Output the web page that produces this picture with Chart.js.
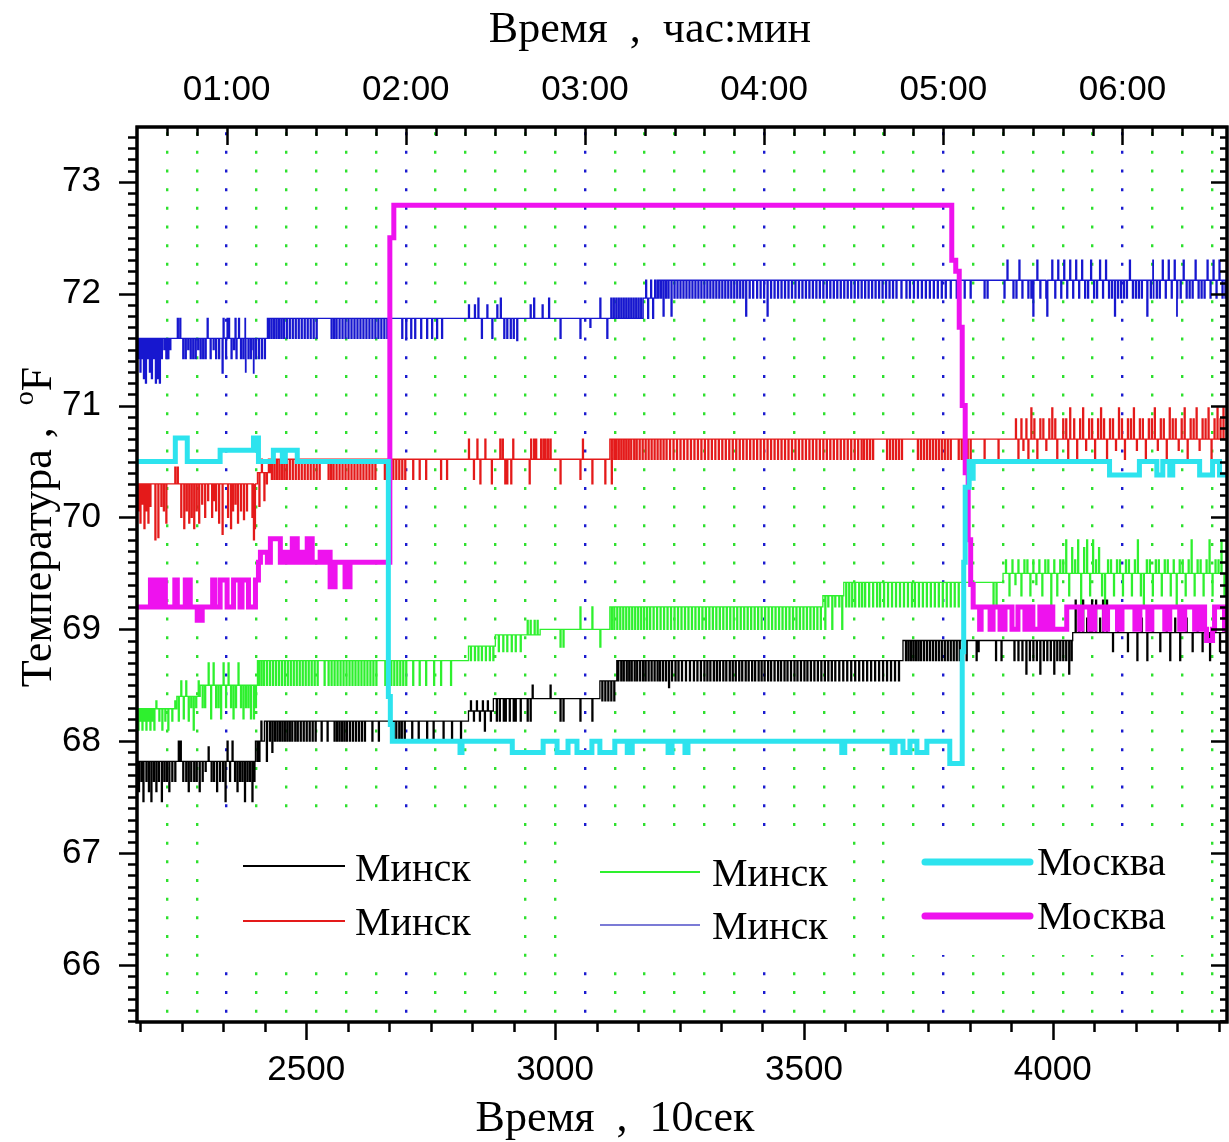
<!DOCTYPE html>
<html><head><meta charset="utf-8">
<script src="https://cdn.jsdelivr.net/npm/chart.js@4/dist/chart.umd.min.js"></script>
<style>html,body{margin:0;padding:0;background:#fff}#wrap{width:1229px;height:1142px}</style>
</head><body><div id="wrap"><canvas id="c" width="1229" height="1142"></canvas></div>
<script>
const X_MIN = 2160, X_MAX = 4350, Y_MIN = 65.49, Y_MAX = 73.49;
const bottomTicks = [2500, 3000, 3500, 4000];
const yTicks = [66, 67, 68, 69, 70, 71, 72, 73];
const hourTicks = [2340, 2700, 3060, 3420, 3780, 4140];
const hourLabels = ['01:00', '02:00', '03:00', '04:00', '05:00', '06:00'];
const gridStep = 60;
const seriesLabels = ['Минск', 'Минск', 'Минск', 'Минск', 'Москва', 'Москва'];

// ---- Минск (black): level changes [x, y, ...] and spikes [value, x...]
const blackLevels = [2160,67.82, 2398,68.0, 2416,68.18, 2826,68.27, 2876,68.38, 3090,68.54, 3128,68.72, 3699,68.9, 4040,68.97];
const blackSpikes = [
 [67.64, 2168,2178,2193,2203,2214,2219,2230,2236,2252,2258,2268,2274,2279,2291,2309,2314,2326,2332,2346,2356,2366,2371,2381,2386,2395],
 [67.55, 2163,2183,2198,2224,2263,2285,2320,2361],
 [67.46, 2172,2188,2209,2337,2376,2391],
 [67.73, 2297], [67.95, 2303],
 [68.0, 2243,2247,2341,2351],
 [67.82, 2401,2405,2420], [68.18, 2409], [67.9, 2431],
 [68.0, 2426,2436,2441,2446,2451,2456,2461,2466,2471,2477,2482,2488,2494,2500,2506,2512,2518,2530,2542,2556,2561,2566,2571,2576,2581,2587,2593,2599,2605,2611,2617,2632,2645,2670,2675,2680,2686,2691,2697,2712,2725,2742,2755,2775,2792,2810],
 [68.36, 2830,2842,2854,2864,3094,3100,3106,3112,3118],
 [68.18, 2836,2848,2870,2882,2888,2896,2900,2908,2916,2920,2930,2944,2950,3010,3016,3050,3074],
 [68.09, 2858], [68.5, 2954,2990], [68.72, 3124],
 [68.54, 3132,3137,3143,3148,3153,3159,3164,3170,3176,3181,3187,3193,3199,3205,3210,3216,3222,3234,3241,3247,3254,3262,3270,3278,3285,3292,3299,3305,3311,3318,3324,3330,3337,3343,3350,3356,3362,3369,3375,3382,3388,3395,3401,3408,3414,3420,3427,3433,3440,3447,3453,3460,3466,3473,3480,3486,3493,3500,3506,3513,3520,3527,3534,3541,3548,3555,3562,3570,3578,3586,3594,3602,3610,3618,3626,3634,3642,3650,3658,3666,3674,3682,3690],
 [68.48, 3228],
 [68.72, 3704,3709,3714,3719,3724,3729,3734,3740,3746,3752,3758,3764,3770,3776,3782,3788,3794,3800,3806,3812,3826,3846,3885,3896,3922,3930,3938,3953,3960,3967,3981,3988,3995,4008,4014,4020,4026,4037,4169,4189,4235,4255,4315],
 [68.8, 3850,4120,4150,4215,4280,4300,4335],
 [68.6, 3946,3974,4002,4032],
 [69.26, 4045,4060,4078,4086,4100,4108],
 [69.1, 4052,4068,4074,4094,4130,4178,4200,4228,4245,4268,4290,4325,4345]
];

// ---- Минск (red)
const redLevels = [2160,70.3, 2402,70.4, 2428,70.52, 3110,70.7];
const redSpikes = [
 [70.06, 2162,2178,2213,2259,2279,2318,2352,2368,2380],
 [69.95, 2166,2182,2218,2264,2284,2324,2362],
 [70.12, 2170,2290,2357],
 [69.9, 2174,2254,2274,2348,2396],
 [70.1, 2186,2208], [69.8, 2196,2394], [69.82, 2202],
 [70.0, 2248,2269,2296,2310,2342,2391],
 [70.15, 2302,2314], [69.85, 2331], [69.98, 2374], [70.45, 2236,2241],
 [70.1, 2405], [70.52, 2410,2424], [70.15, 2415], [70.3, 2420],
 [70.34, 2430,2435,2440,2445,2450,2455,2460,2466,2472,2478,2484,2490,2496,2502,2508,2514,2520,2526,2544,2549,2554,2560,2566,2572,2578,2584,2590,2596,2602,2608,2614,2620,2626,2632,2638,2657,2662,2668,2674,2680,2686,2692,2698,2714,2727,2740,2770,2782,2836,3050],
 [70.3, 2849,2872,2899,2903,2911,2948,3010,3074,3100,3113],
 [70.7, 2826,2843,2859,2889,2894,2915,2951,2957,2961,2971,2976,2980,2985,2990,3055],
 [70.52, 3118,3122,3127,3132,3137,3142,3147,3152,3158,3163,3169,3175,3181,3187,3193,3199,3205,3211,3217,3223,3230,3237,3244,3251,3258,3265,3272,3279,3286,3293,3300,3307,3314,3321,3328,3335,3342,3349,3356,3363,3370,3377,3384,3391,3398,3405,3412,3419,3426,3433,3440,3447,3454,3461,3468,3475,3482,3489,3496,3503,3510,3517,3524,3531,3538,3545,3552,3559,3566,3573,3580,3587,3594,3601,3608,3615,3620,3626,3632,3638,3666,3672,3678,3684,3690,3696,3728,3734,3740,3746,3752,3758,3764,3770,3776,3782,3788,3794,3810,3816,3822,3828,3834,3862,3890,3930,3950,3968,4008,4030,4048,4084,4108,4144,4186,4228,4270,4318],
 [70.88, 3925,3936,3946,3962,3974,3980,3992,4004,4020,4026,4042,4054,4072,4078,4090,4102,4114,4120,4138,4150,4156,4174,4180,4192,4198,4216,4222,4240,4246,4258,4276,4282,4300,4306,4324,4336],
 [70.98, 3956,3998,4034,4060,4096,4132,4162,4204,4234,4264,4288,4312,4330,4342],
 [70.6, 3940,3986,4066,4126,4168,4210,4252,4294]
];

// ---- Минск (green)
const greenLevels = [2160,68.29, 2240,68.4, 2287,68.5, 2402,68.72, 2826,68.85, 2880,68.95, 2970,69.0, 3110,69.2, 3538,69.3, 3580,69.42, 3900,69.5];
const greenSpikes = [
 [68.1, 2162,2170,2178,2186,2194,2210,2222],
 [68.18, 2166,2174,2182,2190,2204,2216,2230,2243,2263],
 [68.36, 2198,2236],
 [68.54, 2248,2258,2283], [68.2, 2253], [68.3, 2268,2278], [68.1, 2273],
 [68.7, 2303,2313,2333,2343,2363],
 [68.3, 2291,2296,2318,2323,2338,2348,2358,2368,2378,2383,2398],
 [68.2, 2308,2328,2353,2373,2388,2394],
 [68.5, 2404,2409,2414,2420,2426,2432,2438,2444,2450,2456,2462,2468,2474,2480,2486,2492,2498,2504,2510,2516,2522,2536,2544,2550,2556,2562,2568,2574,2580,2586,2592,2598,2604,2610,2616,2622,2628,2634,2640,2658,2664,2670,2676,2682,2688,2694,2700,2714,2727,2740,2756,2770,2790],
 [68.72, 2830,2838,2845,2852,2860,2868,2875],
 [69.08, 2944,2950,2958,2964],
 [68.8, 2886,2895,2903,2912,2920,2930],
 [68.84, 3010,3016,3090], [69.2, 3050,3074],
 [69.0, 3113,3118,3124,3130,3136,3142,3148,3154,3160,3166,3172,3178,3184,3190,3197,3204,3211,3218,3225,3232,3239,3246,3253,3260,3267,3274,3281,3288,3295,3302,3309,3316,3323,3330,3337,3344,3351,3358,3365,3372,3379,3386,3393,3400,3407,3414,3421,3428,3435,3442,3449,3456,3463,3470,3477,3484,3491,3498,3505,3512,3519,3526,3533,3542,3556,3576],
 [69.2, 3548,3562,3570,3584,3590,3596,3602,3610,3616,3622,3630,3638,3646,3652,3660,3668,3676,3684,3692,3700,3708,3716,3722,3730,3738,3746,3754,3762,3770,3778,3786,3794,3802,3810,3880,3886,3996,4056,4104,4182,4248],
 [69.62, 3905,3918,3930,3942,3948,3960,3972,3984,3990,4002,4014,4020,4044,4086,4110,4116,4128,4134,4146,4152,4164,4188,4194,4206,4212,4224,4230,4242,4254,4260,4272,4290,4296,4308,4326,4332],
 [69.3, 3912,3936,3954,3978,4008,4032,4074,4098,4122,4140,4158,4176,4200,4218,4236,4266,4284,4302,4320,4344],
 [69.4, 3924,3966],
 [69.8, 4026,4050,4068,4080,4170,4278,4314,4338],
 [69.73, 4038,4062,4092]
];

// ---- Минск (blue)
const blueLevels = [2160,71.6, 2422,71.78, 3177,71.96, 3205,72.12];
const blueSpikes = [
 [71.42, 2162,2170,2181,2193,2209,2218,2222,2252,2257,2267,2272,2277,2287,2292,2297,2307,2318,2324,2338,2349,2359,2368,2373,2383,2388,2398,2404,2410,2416],
 [71.3, 2166,2185,2378], [71.24, 2173,2189,2201], [71.2, 2177,2197,2205],
 [71.5, 2214,2226,2262,2282,2313,2354,2393],
 [71.78, 2241,2246,2301,2333,2341,2344,2357,2364,2377],
 [71.29, 2331,2394],
 [71.6, 2424,2429,2434,2439,2444,2449,2454,2460,2466,2472,2478,2484,2490,2496,2502,2508,2514,2520,2550,2555,2560,2566,2572,2578,2584,2590,2596,2602,2608,2614,2620,2626,2632,2638,2644,2650,2656,2662,2668,2692,2700,2710,2718,2730,2742,2752,2762,2772,2852,2873,2897,2903,2910,2916,3010,3050,3104],
 [71.58, 2923],
 [71.9, 2826,2838,2863,2883,2950,2974],
 [71.96, 2845,2890,2957,2987,3090,3112,3117,3122,3127,3132,3137,3142,3147,3152,3157,3162,3167,3172],
 [71.7, 3070],
 [72.12, 3182,3192,3200], [71.78, 3186,3196],
 [71.96, 3207,3212,3222,3227,3239,3245,3251,3257,3263,3269,3275,3281,3287,3293,3299,3305,3311,3317,3323,3329,3335,3341,3347,3353,3359,3365,3371,3377,3390,3397,3405,3412,3419,3433,3440,3447,3454,3461,3468,3475,3482,3489,3496,3503,3510,3517,3524,3531,3538,3545,3552,3559,3566,3573,3580,3587,3594,3601,3608,3615,3622,3629,3636,3643,3650,3657,3664,3671,3678,3685,3695,3705,3712,3720,3728,3736,3744,3752,3760,3768,3776,3784,3794,3806,3812,3822,3834,3862,3868,3902,3920,3926,3938,3950,3956,3974,3986,4004,4016,4028,4040,4052,4064,4070,4082,4088,4100,4112,4118,4130,4136,4142,4148,4160,4166,4172,4178,4196,4202,4208,4214,4226,4238,4250,4256,4268,4274,4280,4292,4298,4304,4316,4328,4340,4346],
 [71.8, 3217,3233,3383,3426,3960,3988,4124,4189,4249],
 [72.3, 3908,3932,3968,3998,4010,4022,4034,4046,4058,4076,4094,4106,4154,4201,4220,4232,4244,4262,4286,4310,4322,4334]
];

// ---- Москва (cyan): step changes [x, y, ...]
const cyanSteps = [2160,70.5, 2237,70.71, 2261,70.5, 2327,70.6, 2394,70.71, 2404,70.5, 2434,70.6, 2452,70.5, 2458,70.6, 2482,70.5,
 2665,68.4, 2669,68.15, 2673,68.0, 2809,67.9, 2813,68.0, 2914,67.9, 2976,68.0, 3004,67.9, 3026,68.0, 3044,67.9, 3074,68.0,
 3090,67.9, 3120,68.0, 3145,67.9, 3155,68.0, 3227,67.9, 3235,68.0, 3261,67.9, 3267,68.0, 3576,67.9, 3582,68.0,
 3677,67.9, 3683,68.0, 3699,67.9, 3713,68.0, 3727,67.9, 3747,68.0, 3793,67.8, 3818,68.8, 3821,69.6, 3824,70.27, 3832,70.5,
 3836,70.35, 3840,70.5, 4114,70.38, 4174,70.5, 4209,70.38, 4221,70.5, 4235,70.38, 4241,70.5, 4295,70.38, 4321,70.5, 4335,70.38];

// ---- Москва (magenta)
const magentaSteps = [2160,69.2, 2187,69.44, 2197,69.2, 2207,69.44, 2217,69.2, 2236,69.44, 2241,69.2, 2257,69.44, 2267,69.2, 2281,69.08, 2291,69.2,
 2312,69.44, 2316,69.2, 2327,69.44, 2341,69.2, 2354,69.44, 2367,69.2, 2371,69.44, 2384,69.2, 2398,69.44, 2404,69.6, 2408,69.69, 2422,69.6,
 2428,69.81, 2448,69.6, 2458,69.69, 2468,69.6, 2472,69.81, 2482,69.6, 2488,69.69, 2494,69.6, 2502,69.81, 2512,69.6, 2528,69.69, 2534,69.6,
 2542,69.69, 2548,69.38, 2558,69.6, 2578,69.38, 2588,69.6, 2668,72.5, 2676,72.79,
 3797,72.3, 3805,72.2, 3812,71.7, 3818,71.0, 3824,70.4, 3830,69.8, 3835,69.4, 3840,69.2, 3853,69.0,
 3856,69.2, 3874,69.0, 3880,69.2, 3894,69.0, 3904,69.2, 3918,69.0, 3930,69.2, 3944,69.0, 3954,69.2, 3960,69.0, 3974,69.2, 3984,69.0,
 3994,69.2, 4000,69.0, 4028,69.2, 4054,69.0, 4058,69.2, 4074,69.0, 4084,69.2, 4104,69.0, 4110,69.2, 4130,69.0, 4139,69.2, 4165,69.0,
 4175,69.2, 4191,69.0, 4199,69.2, 4225,69.0, 4235,69.2, 4255,69.0, 4265,69.2, 4285,69.0, 4295,69.2, 4305,69.0, 4309,68.9, 4321,69.0,
 4325,69.2, 4345,69.0];

function build(levels, groups, dur) {
  const lv = [];
  for (let i = 0; i < levels.length; i += 2) lv.push([levels[i], levels[i + 1]]);
  const baseAt = x => { let b = lv[0][1]; for (const [lx, ly] of lv) { if (lx <= x) b = ly; } return b; };
  const pts = lv.map(([x, y]) => ({x, y, o: 0}));
  groups.forEach(g => {
    const v = g[0];
    for (let i = 1; i < g.length; i++) {
      const x = g[i];
      pts.push({x, y: v, o: 2});
      pts.push({x: x + dur, y: baseAt(x + dur), o: 1});
    }
  });
  pts.sort((a, b) => (a.x - b.x) || (a.o - b.o));
  pts.push({x: X_MAX, y: pts[pts.length - 1].y});
  return pts.map(p => ({x: p.x, y: p.y}));
}

const COLORS = ['#000000', '#e41a1a', '#2ef02e', '#1717cf', '#2de3ee', '#ee12ee'];
const WIDTHS = [1.3, 1.3, 1.3, 1.3, 5, 5];
const seriesData = [
  build(blackLevels, blackSpikes, 2),
  build(redLevels, redSpikes, 2),
  build(greenLevels, greenSpikes, 2),
  build(blueLevels, blueSpikes, 2),
  build(cyanSteps, [], 2),
  build(magentaSteps, [], 2)
];

const datasets = seriesData.map((d, i) => ({
  label: seriesLabels[i], data: d, borderColor: COLORS[i], backgroundColor: COLORS[i],
  borderWidth: WIDTHS[i], pointRadius: 0, stepped: true, fill: false,
  borderJoinStyle: 'miter', borderCapStyle: 'butt', order: i >= 4 ? 0 : 1
}));

const TICKFONT = {family: "'Liberation Sans Narrow', 'Arial Narrow', 'Liberation Sans', sans-serif", size: 35};
const SERIF = '"Liberation Serif", "Times New Roman", serif';

const framePlugin = {
  id: 'frame',
  afterDraw(chart) {
    const {ctx, chartArea: {left, right, top, bottom}, scales: {x, y}} = chart;
    ctx.save();
    ctx.strokeStyle = '#000';
    ctx.lineCap = 'butt';
    ctx.lineWidth = 2.5;
    ctx.beginPath();
    for (let k = Math.ceil(Y_MIN * 10); k <= Math.floor(Y_MAX * 10); k++) {
      const py = Math.round(y.getPixelForValue(k / 10)) + 0.5;
      const len = k % 10 === 0 ? 18 : 9;
      ctx.moveTo(left, py); ctx.lineTo(left - len, py);
      ctx.moveTo(right, py); ctx.lineTo(right - (k % 10 === 0 ? 16 : 7), py);
    }
    for (let v = X_MIN + gridStep; v <= X_MAX; v += gridStep) {
      const px = Math.round(x.getPixelForValue(v)) + 0.5;
      const len = hourTicks.includes(v) ? 18 : 9;
      ctx.moveTo(px, top); ctx.lineTo(px, top + len);
    }
    for (let k = 0; k < 40; k++) {
      const v = 2500 + (k - 4) * 500 / 6;
      if (v < X_MIN || v > X_MAX) continue;
      const px = Math.round(x.getPixelForValue(v)) + 0.5;
      const len = (k - 4) % 6 === 0 ? 18 : 10;
      ctx.moveTo(px, bottom); ctx.lineTo(px, bottom + len);
    }
    ctx.stroke();
    ctx.lineWidth = 3.5;
    ctx.beginPath();
    ctx.moveTo(left, top - 1.5); ctx.lineTo(left, bottom + 1.5);
    ctx.moveTo(right, top - 1.5); ctx.lineTo(right, bottom + 1.5);
    ctx.moveTo(left - 1.5, top); ctx.lineTo(right + 1.5, top);
    ctx.moveTo(left - 1.5, bottom); ctx.lineTo(right + 1.5, bottom);
    ctx.stroke();

    ctx.fillStyle = '#000';
    ctx.font = '44px ' + SERIF;
    ctx.textAlign = 'center';
    ctx.textBaseline = 'alphabetic';
    ctx.fillText('Время  ,  час:мин', 650, 42);
    ctx.fillText('Время  ,  10сек', 615, 1131);
    ctx.save();
    ctx.translate(51, 527);
    ctx.rotate(-Math.PI / 2);
    ctx.textAlign = 'left';
    const p1 = 'Температура ,  ', p2 = 'F', sup = 'o';
    ctx.font = '44px ' + SERIF;
    const w1 = ctx.measureText(p1).width, w2 = ctx.measureText(p2).width;
    ctx.font = '28px ' + SERIF;
    const ws = ctx.measureText(sup).width;
    const sx = -(w1 + ws + w2) / 2;
    ctx.font = '44px ' + SERIF;
    ctx.fillText(p1, sx, 0);
    ctx.font = '28px ' + SERIF;
    ctx.fillText(sup, sx + w1, -18);
    ctx.font = '44px ' + SERIF;
    ctx.fillText(p2, sx + w1 + ws, 0);
    ctx.restore();
    ctx.restore();
  }
};

const legendPlugin = {
  id: 'boxLegend',
  afterDatasetsDraw(chart) {
    const ctx = chart.ctx;
    const boxes = [[205, 823, 510, 960], [565, 835, 849, 968], [890, 838, 1200, 955]];
    const items = [
      {ds: 0, x1: 243, x2: 345, y: 866, tx: 355, ty: 881},
      {ds: 1, x1: 243, x2: 345, y: 921, tx: 355, ty: 935},
      {ds: 2, x1: 600, x2: 700, y: 872, tx: 712, ty: 886},
      {ds: 3, x1: 600, x2: 700, y: 925, tx: 712, ty: 939},
      {ds: 4, x1: 925, x2: 1030, y: 862, tx: 1037, ty: 875},
      {ds: 5, x1: 925, x2: 1030, y: 916, tx: 1037, ty: 929}
    ];
    ctx.save();
    ctx.fillStyle = '#fff';
    boxes.forEach(b => ctx.fillRect(b[0], b[1], b[2] - b[0], b[3] - b[1]));
    items.forEach(it => {
      const ds = chart.data.datasets[it.ds];
      ctx.strokeStyle = it.ds === 3 ? '#7b7bd6' : ds.borderColor;
      ctx.lineWidth = ds.borderWidth > 2 ? 7 : 2;
      ctx.lineCap = ds.borderWidth > 2 ? 'round' : 'butt';
      ctx.beginPath(); ctx.moveTo(it.x1, it.y); ctx.lineTo(it.x2, it.y); ctx.stroke();
      ctx.fillStyle = '#000';
      ctx.font = '40px ' + SERIF;
      ctx.textAlign = 'left';
      ctx.textBaseline = 'alphabetic';
      ctx.fillText(ds.label, it.tx, it.ty);
    });
    ctx.restore();
  }
};

new Chart(document.getElementById('c'), {
  type: 'line',
  data: {datasets},
  options: {
    responsive: false, animation: false, devicePixelRatio: 1, parsing: false,
    layout: {padding: {left: 0, right: 2, top: 0, bottom: 0}},
    plugins: {legend: {display: false}, tooltip: {enabled: false}},
    scales: {
      x: {
        type: 'linear', position: 'bottom', min: X_MIN, max: X_MAX,
        afterFit: s => { s.height = 120; },
        afterBuildTicks: s => { s.ticks = bottomTicks.map(v => ({value: v})); },
        ticks: {autoSkip: false, maxRotation: 0, padding: 19, color: '#000', font: TICKFONT, callback: v => String(v)},
        grid: {display: false}, border: {display: false}
      },
      x2: {
        type: 'linear', position: 'top', min: X_MIN, max: X_MAX,
        afterFit: s => { s.height = 127; },
        afterBuildTicks: s => {
          const t = [];
          for (let v = X_MIN + gridStep; v < X_MAX; v += gridStep) t.push({value: v});
          s.ticks = t;
        },
        ticks: {autoSkip: false, maxRotation: 0, padding: 16, color: '#000', font: TICKFONT,
          callback: v => { const i = hourTicks.indexOf(v); return i >= 0 ? hourLabels[i] : ''; }},
        grid: {drawOnChartArea: true, drawTicks: false, lineWidth: 2.4,
          color: c => (c.tick && hourTicks.includes(c.tick.value)) ? '#1a1ad0' : '#2ee02e'},
        border: {display: false, dash: [3, 15.67], dashOffset: 13.5}
      },
      y: {
        type: 'linear', position: 'left', min: Y_MIN, max: Y_MAX,
        afterFit: s => { s.width = 137; },
        afterBuildTicks: s => { s.ticks = yTicks.map(v => ({value: v})); },
        ticks: {autoSkip: false, padding: 28, color: '#000', font: TICKFONT, callback: v => String(v)},
        grid: {display: false}, border: {display: false}
      }
    }
  },
  plugins: [framePlugin, legendPlugin]
});
</script></body></html>
